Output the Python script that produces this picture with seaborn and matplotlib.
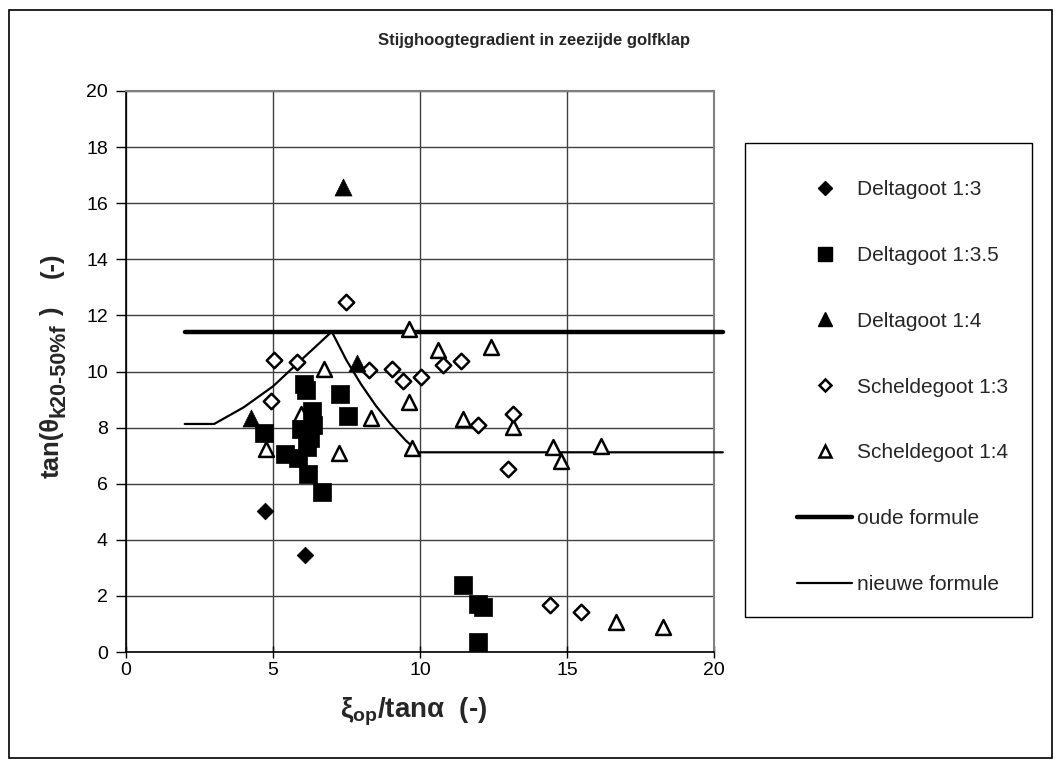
import matplotlib
matplotlib.use("Agg")
import matplotlib.pyplot as plt
import seaborn as sns
from matplotlib.lines import Line2D
from matplotlib.patches import Rectangle

# ---------------- data ----------------
delta13_x = [4.72, 6.09]
delta13_y = [5.03, 3.47]

delta135_x = [4.69, 5.41, 5.86, 5.97, 6.05, 6.12, 6.15, 6.20, 6.26, 6.32, 6.37,
              6.66, 7.28, 7.55, 11.47, 11.98, 12.15, 11.98]
delta135_y = [7.81, 7.05, 6.90, 7.95, 9.55, 9.35, 7.30, 6.35, 7.63, 8.60, 8.10,
              5.70, 9.20, 8.40, 2.38, 1.73, 1.59, 0.37]

delta14_x = [4.24, 7.39, 7.85]
delta14_y = [8.34, 16.56, 10.30]

schelde13_x = [4.93, 5.03, 5.81, 7.50, 8.25, 9.04, 9.41, 10.02, 10.77, 11.39,
               11.96, 13.15, 13.00, 14.42, 15.47]
schelde13_y = [8.94, 10.41, 10.33, 12.48, 10.06, 10.10, 9.65, 9.79, 10.24, 10.38,
               8.11, 8.50, 6.52, 1.67, 1.41]

schelde14_x = [4.76, 5.95, 6.73, 7.26, 8.32, 9.64, 9.64, 9.72, 10.62, 11.45,
               12.40, 13.17, 14.53, 14.78, 16.15, 16.67, 18.28]
schelde14_y = [7.22, 8.50, 10.10, 7.10, 8.34, 11.50, 8.91, 7.28, 10.77, 8.32,
               10.86, 8.02, 7.32, 6.81, 7.34, 1.07, 0.88]

oude_x = [2.0, 20.3]
oude_y = [11.42, 11.42]

nieuw_x = [2.0, 3.0, 4.0, 5.0, 6.0, 7.0, 7.5, 8.0, 8.5, 9.0, 9.5, 9.95, 20.3]
nieuw_y = [8.13, 8.13, 8.72, 9.47, 10.45, 11.42, 10.40, 9.54, 8.78, 8.13, 7.56, 7.12, 7.12]

labels = ["Deltagoot 1:3", "Deltagoot 1:3.5", "Deltagoot 1:4",
          "Scheldegoot 1:3", "Scheldegoot 1:4", "oude formule", "nieuwe formule"]
x_ticks = [0, 5, 10, 15, 20]
y_ticks = [0, 2, 4, 6, 8, 10, 12, 14, 16, 18, 20]

title = "Stijghoogtegradient in zeezijde golfklap"
xlabel = "ξ$_{\\mathbf{op}}$/tanα  (-)"
ylabel_parts = ["tan(θ", "k20-50%f", ")", "(-)"]

# ---------------- style ----------------
sns.set_style("white")
plt.rcParams["font.family"] = ["Liberation Sans", "DejaVu Sans"]
plt.rcParams["mathtext.fontset"] = "custom"
plt.rcParams["mathtext.rm"] = "Liberation Sans"
plt.rcParams["mathtext.bf"] = "Liberation Sans:bold"
plt.rcParams["mathtext.it"] = "Liberation Sans:italic"

W, H = 1062, 769
fig = plt.figure(figsize=(W / 100, H / 100), dpi=100)
fig.patch.set_facecolor("white")
ax = fig.add_axes([0.1186, 0.1521, 0.5537, 0.7296])

# formula lines (extend slightly past the plot area as in the reference)
sns.lineplot(x=oude_x, y=oude_y, ax=ax, color="black", lw=3.2, sort=False,
             estimator=None, clip_on=False, zorder=3)
sns.lineplot(x=nieuw_x, y=nieuw_y, ax=ax, color="black", lw=1.6, sort=False,
             estimator=None, clip_on=False, zorder=3)

# scatter series
sns.scatterplot(x=schelde14_x, y=schelde14_y, ax=ax, marker="^", s=115,
                facecolor="white", edgecolor="black", linewidth=1.8, zorder=4)
sns.scatterplot(x=schelde13_x, y=schelde13_y, ax=ax, marker="D", s=62,
                facecolor="white", edgecolor="black", linewidth=1.8, zorder=4)
sns.scatterplot(x=delta14_x, y=delta14_y, ax=ax, marker="^", s=150,
                color="black", edgecolor="black", linewidth=0.5, zorder=5)
sns.scatterplot(x=delta135_x, y=delta135_y, ax=ax, marker="s", s=160,
                color="black", edgecolor="black", linewidth=0.5, zorder=5)
sns.scatterplot(x=delta13_x, y=delta13_y, ax=ax, marker="D", s=72,
                color="black", edgecolor="black", linewidth=0.5, zorder=5)

ax.set_xlim(0, 20)
ax.set_ylim(0, 20)
ax.set_xticks(x_ticks)
ax.set_yticks(y_ticks)
ax.set_xticklabels([str(v) for v in x_ticks])
ax.set_yticklabels([str(v) for v in y_ticks])
ax.grid(True, color="#404040", lw=1.0, zorder=0)
ax.set_axisbelow(True)
ax.tick_params(axis="y", direction="out", length=7, width=1, color="black",
               labelsize=14, pad=6, labelcolor="black", left=True)
ax.tick_params(axis="x", direction="inout", length=8, width=1, color="black",
               labelsize=14, pad=3, labelcolor="black", bottom=True)
for side in ["left", "bottom"]:
    ax.spines[side].set_color("black")
    ax.spines[side].set_linewidth(1.2)
for side in ["top", "right"]:
    ax.spines[side].set_color("#808080")
    ax.spines[side].set_linewidth(1.5)
ax.set_xlabel("")
ax.set_ylabel("")

# title and x label
fig.text(534 / W, 1 - 41 / H, title, ha="center", va="center",
         fontsize=12, fontweight="bold")
fig.text(414 / W, 1 - 712 / H, xlabel, ha="center", va="center",
         fontsize=20, fontweight="bold")

# y label built from pieces (large Excel-style subscript)
renderer = fig.canvas.get_renderer()
main_fs, sub_fs = 18.5, 15.5
base_x = 59.0          # baseline position (pixels from left)
pos_y = H - 478.0      # start of text (display pixels from bottom)
space_px = 0.278 * main_fs * 100 / 72
specs = [(ylabel_parts[0], main_fs, 0.0, 0.0),
         (ylabel_parts[1], sub_fs, 5.0, 0.0),
         (ylabel_parts[2], main_fs, 0.0, space_px),
         (ylabel_parts[3], main_fs, 0.0, 30.0)]
for txt, fs, shift, gap in specs:
    pos_y += gap
    t = fig.text((base_x + shift) / W, pos_y / H, txt, rotation=90,
                 rotation_mode="anchor", ha="left", va="baseline",
                 fontsize=fs, fontweight="bold")
    ext = t.get_window_extent(renderer)
    pos_y += ext.height

# legend
handles = [
    Line2D([], [], ls="none", marker="D", ms=7.2, color="black"),
    Line2D([], [], ls="none", marker="s", ms=10, color="black"),
    Line2D([], [], ls="none", marker="^", ms=10, color="black"),
    Line2D([], [], ls="none", marker="D", ms=6.5, mfc="white", mec="black", mew=1.8),
    Line2D([], [], ls="none", marker="^", ms=9, mfc="white", mec="black", mew=1.8),
    Line2D([], [], color="black", lw=3.2),
    Line2D([], [], color="black", lw=1.6),
]
fig.legend(handles, labels, loc="upper left",
           bbox_to_anchor=(797 / W, 1 - 180 / H),
           frameon=False, fontsize=15, borderpad=0, borderaxespad=0,
           labelspacing=2.25, handlelength=2.64, handletextpad=0.24)
fig.add_artist(Rectangle((745 / W, 1 - 617 / H), 287 / W, 474 / H,
                         transform=fig.transFigure, fill=False,
                         edgecolor="black", lw=1.0))

# outer chart border
fig.add_artist(Rectangle((9 / W, 1 - 758 / H), 1043 / W, 748 / H,
                         transform=fig.transFigure, fill=False,
                         edgecolor="black", lw=1.2))

fig.savefig("out.png", dpi=100)
